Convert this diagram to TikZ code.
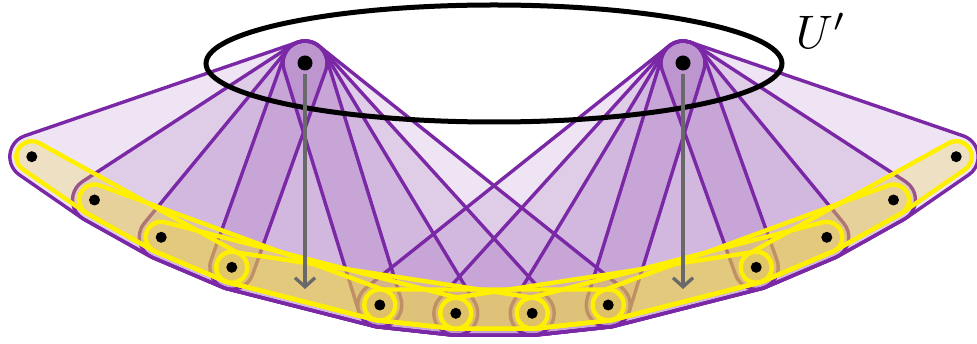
\documentclass[tikz,border=0pt]{standalone}
\usetikzlibrary{arrows.meta}
\definecolor{hullpurple}{RGB}{123,40,166}
\definecolor{hullfill}{RGB}{120,40,160}
\definecolor{bagyellow}{RGB}{255,240,0}
\definecolor{bagfill}{RGB}{240,215,60}
\definecolor{arrowgray}{RGB}{105,105,105}
\makeatletter
\newcount\rhN \newcount\rhI \newcount\rhJ \newcount\rhM
% rounded convex hull of named coordinates, listed counter-clockwise
\newcommand\rhull[2]{%
  \global\rhN=0
  \foreach \rhc in {#2}{%
    \global\advance\rhN by 1
    \pgfpointanchor{\rhc}{center}%
    \expandafter\xdef\csname rhx\the\rhN\endcsname{\pgf@sys@tonumber\pgf@x}%
    \expandafter\xdef\csname rhy\the\rhN\endcsname{\pgf@sys@tonumber\pgf@y}%
  }%
  \rhM=\rhN \advance\rhM by 1
  \rhI=1
  \loop
    \rhJ=\rhI \advance\rhJ by 1
    \ifnum\rhJ>\rhN \rhJ=1 \fi
    \pgfmathparse{atan2((\csname rhy\the\rhJ\endcsname)-(\csname rhy\the\rhI\endcsname),(\csname rhx\the\rhJ\endcsname)-(\csname rhx\the\rhI\endcsname))-90}%
    \expandafter\global\expandafter\let\csname rht\the\rhI\endcsname\pgfmathresult
    \advance\rhI by 1
  \ifnum\rhI<\rhM\repeat
  \edef\rhS{\csname rht\the\rhN\endcsname}%
  \pgfpathmoveto{\pgfpointadd{\pgfpoint{\csname rhx1\endcsname pt}{\csname rhy1\endcsname pt}}{\pgfpointpolar{\rhS}{#1pt}}}%
  \rhI=1
  \loop
    \rhJ=\rhI \advance\rhJ by 1
    \ifnum\rhJ>\rhN \rhJ=1 \fi
    \edef\rhE{\csname rht\the\rhI\endcsname}%
    \ifdim\rhE pt<\rhS pt \pgfmathsetmacro\rhE{\rhE+360}\fi
    \pgfpatharc{\rhS}{\rhE}{#1pt}%
    \edef\rhS{\csname rht\the\rhI\endcsname}%
    \pgfpathlineto{\pgfpointadd{\pgfpoint{\csname rhx\the\rhJ\endcsname pt}{\csname rhy\the\rhJ\endcsname pt}}{\pgfpointpolar{\rhS}{#1pt}}}%
    \advance\rhI by 1
  \ifnum\rhI<\rhM\repeat
  \pgfpathclose
}
\makeatother
\newcommand\purplehulls[1]{%
  \path[#1] \pgfextra{\rhull{22}{A,v1,v2,v3,v4}};
  \path[#1] \pgfextra{\rhull{22}{A,v2,v3,v4,v5}};
  \path[#1] \pgfextra{\rhull{22}{A,v3,v4,v5,v6}};
  \path[#1] \pgfextra{\rhull{22}{A,v4,v5,v6,v7}};
  \path[#1] \pgfextra{\rhull{22}{A,v5,v6,v7,v8}};
  \path[#1] \pgfextra{\rhull{22}{B,v5,v6,v7,v8}};
  \path[#1] \pgfextra{\rhull{22}{B,v6,v7,v8,v9}};
  \path[#1] \pgfextra{\rhull{22}{B,v7,v8,v9,v10}};
  \path[#1] \pgfextra{\rhull{22}{B,v8,v9,v10,v11}};
  \path[#1] \pgfextra{\rhull{22}{B,v9,v10,v11,v12}};
}
\newcommand\yellowbags[1]{%
  \path[#1] \pgfextra{\rhull{15.5}{v1,v2,v3,v4}};
  \path[#1] \pgfextra{\rhull{15.5}{v2,v3,v4,v5}};
  \path[#1] \pgfextra{\rhull{15.5}{v3,v4,v5,v6}};
  \path[#1] \pgfextra{\rhull{15.5}{v4,v5,v6,v7}};
  \path[#1] \pgfextra{\rhull{15.5}{v5,v6,v7,v8}};
  \path[#1] \pgfextra{\rhull{15.5}{v6,v7,v8,v9}};
  \path[#1] \pgfextra{\rhull{15.5}{v7,v8,v9,v10}};
  \path[#1] \pgfextra{\rhull{15.5}{v8,v9,v10,v11}};
  \path[#1] \pgfextra{\rhull{15.5}{v9,v10,v11,v12}};
}
\begin{document}
\begin{tikzpicture}[x=1pt,y=-1pt,
  pfill/.style={fill=hullfill,fill opacity=0.12},
  pline/.style={draw=hullpurple,line width=3.4pt,line join=round},
  yfill/.style={fill=bagfill,fill opacity=0.26},
  yline/.style={draw=bagyellow,line width=4.4pt,line join=round},
  dotbig/.style={circle,fill=black,inner sep=0pt,minimum size=15pt},
  dotsmall/.style={circle,fill=black,inner sep=0pt,minimum size=11pt},
  downarrow/.style={draw=arrowgray,line width=3.3pt,-{Straight Barb[length=9pt,width=20pt]}},
  ringstyle/.style={draw=black,line width=5pt},
  labelstyle/.style={inner sep=0pt,scale=4.7}]
\useasboundingbox (0,0) rectangle (977,344);
\fill[white] (0,0) rectangle (977,344);
\coordinate (A) at (305,63);
\coordinate (B) at (683,63);
\coordinate (v1) at (31.8,156.7);
\coordinate (v2) at (94.5,200);
\coordinate (v3) at (161.2,237.3);
\coordinate (v4) at (231.8,267.3);
\coordinate (v5) at (379.8,305);
\coordinate (v6) at (455.8,313.3);
\coordinate (v7) at (532.2,313.3);
\coordinate (v8) at (608.2,305);
\coordinate (v9) at (756.2,267.3);
\coordinate (v10) at (826.8,237.3);
\coordinate (v11) at (893.5,200);
\coordinate (v12) at (956.2,156.7);
% purple hulls
\purplehulls{pfill}
\purplehulls{pline}
% yellow bags
\yellowbags{yfill}
\yellowbags{yline}
% ellipse U'
\coordinate (Uc) at (494,63.5);
\draw[ringstyle] (Uc) ellipse [x radius=288pt, y radius=58.5pt];
\node[labelstyle] (Ulab) at (821,31) {$U'$};
% arrows
\coordinate (At) at (305,74);
\coordinate (Ah) at (305,289);
\coordinate (Bt) at (683,74);
\coordinate (Bh) at (683,289);
\draw[downarrow] (At) -- (Ah);
\draw[downarrow] (Bt) -- (Bh);
% dots
\node[dotbig] (dA) at (A) {};
\node[dotbig] (dB) at (B) {};
\foreach \i in {1,...,12}{\node[dotsmall] (d\i) at (v\i) {};}
\end{tikzpicture}
\end{document}
